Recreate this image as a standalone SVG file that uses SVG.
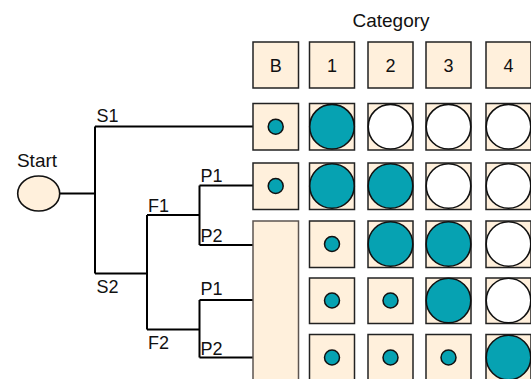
<svg xmlns="http://www.w3.org/2000/svg" width="531" height="379" viewBox="0 0 531 379">
<style>
text{font-family:"Liberation Sans",Arial,sans-serif;font-size:18px;fill:#111}
.c{text-anchor:middle}
.box{fill:#fff0dc;stroke:#222;stroke-width:1.5}
.tall{fill:#fff0dc;stroke:#5c5450;stroke-width:1.5}
.big{stroke:#111;stroke-width:1.6}
.t{fill:#06a2b2}
.w{fill:#fff}
.dot{fill:#06a2b2;stroke:#111;stroke-width:1.5}
.ln{fill:none;stroke:#000;stroke-width:2}
</style>
<rect width="531" height="379" fill="#fff"/>
<text class="c" x="391" y="27" style="font-size:19px">Category</text>
<g id="connectors">
<path class="ln" d="M59.5,193.5H95M95,126.5V273.5M95,126.5H253M95,273.5H147M147,215V329.5M147,215H199.5M147,329.5H199.5M199.5,185.5V245M199.5,185.5H253M199.5,245H253M199.5,300V357.5M199.5,300H253M199.5,357.5H253"/>
</g>
<g id="start">
<ellipse cx="38.7" cy="193.5" rx="21" ry="17.5" fill="#fff0dc" stroke="#111" stroke-width="1.6"/>
<text class="c" x="37" y="167.3" style="font-size:19px">Start</text>
</g>
<g id="labels">
<text x="96.5" y="121.7">S1</text>
<text x="96.5" y="293.3">S2</text>
<text x="148" y="211.7">F1</text>
<text x="148" y="349.3">F2</text>
<text x="200.5" y="181.7">P1</text>
<text x="200.5" y="241.7">P2</text>
<text x="200.5" y="295">P1</text>
<text x="200.5" y="355">P2</text>
</g>
<g id="header">
<rect class="box" x="253" y="42" width="45.5" height="46"/><text class="c" x="275.7" y="72">B</text>
<rect class="box" x="309.5" y="42" width="45" height="46"/><text class="c" x="332" y="72">1</text>
<rect class="box" x="368" y="42" width="45" height="46"/><text class="c" x="390.5" y="72">2</text>
<rect class="box" x="426" y="42" width="45" height="46"/><text class="c" x="448.5" y="72">3</text>
<rect class="box" x="486" y="42" width="45" height="46"/><text class="c" x="508.5" y="72">4</text>
</g>
<g id="row1">
<rect class="box" x="253" y="103.5" width="45.5" height="46.5"/><circle class="dot" cx="275.7" cy="126.7" r="7.5"/>
<rect class="box" x="309.5" y="103.5" width="45" height="46.5"/><circle class="big t" cx="332" cy="126.7" r="22.3"/>
<rect class="box" x="368" y="103.5" width="45" height="46.5"/><circle class="big w" cx="390.5" cy="126.7" r="22.3"/>
<rect class="box" x="426" y="103.5" width="45" height="46.5"/><circle class="big w" cx="448.5" cy="126.7" r="22.3"/>
<rect class="box" x="486" y="103.5" width="45" height="46.5"/><circle class="big w" cx="508.5" cy="126.7" r="22.3"/>
</g>
<g id="row2">
<rect class="box" x="253" y="163" width="45.5" height="46.5"/><circle class="dot" cx="275.7" cy="186" r="7.5"/>
<rect class="box" x="309.5" y="163" width="45" height="46.5"/><circle class="big t" cx="332" cy="186" r="22.3"/>
<rect class="box" x="368" y="163" width="45" height="46.5"/><circle class="big t" cx="390.5" cy="186" r="22.3"/>
<rect class="box" x="426" y="163" width="45" height="46.5"/><circle class="big w" cx="448.5" cy="186" r="22.3"/>
<rect class="box" x="486" y="163" width="45" height="46.5"/><circle class="big w" cx="508.5" cy="186" r="22.3"/>
</g>
<g id="baseline-tall">
<rect class="tall" x="253" y="221" width="45.5" height="170"/>
</g>
<g id="row3">
<rect class="box" x="309.5" y="221" width="45" height="46.5"/><circle class="dot" cx="332" cy="244" r="7.5"/>
<rect class="box" x="368" y="221" width="45" height="46.5"/><circle class="big t" cx="390.5" cy="244" r="22.3"/>
<rect class="box" x="426" y="221" width="45" height="46.5"/><circle class="big t" cx="448.5" cy="244" r="22.3"/>
<rect class="box" x="486" y="221" width="45" height="46.5"/><circle class="big w" cx="508.5" cy="244" r="22.3"/>
</g>
<g id="row4">
<rect class="box" x="309.5" y="278" width="45" height="45.5"/><circle class="dot" cx="332" cy="300.5" r="7.5"/>
<rect class="box" x="368" y="278" width="45" height="45.5"/><circle class="dot" cx="390.5" cy="300.5" r="7.5"/>
<rect class="box" x="426" y="278" width="45" height="45.5"/><circle class="big t" cx="448.5" cy="300.5" r="22.3"/>
<rect class="box" x="486" y="278" width="45" height="45.5"/><circle class="big w" cx="508.5" cy="300.5" r="22.3"/>
</g>
<g id="row5">
<rect class="box" x="309.5" y="334.5" width="45" height="46.5"/><circle class="dot" cx="332" cy="357.5" r="7.5"/>
<rect class="box" x="368" y="334.5" width="45" height="46.5"/><circle class="dot" cx="390.5" cy="357.5" r="7.5"/>
<rect class="box" x="426" y="334.5" width="45" height="46.5"/><circle class="dot" cx="448.5" cy="357.5" r="7.5"/>
<rect class="box" x="486" y="334.5" width="45" height="46.5"/><circle class="big t" cx="508.5" cy="357.5" r="22.3"/>
</g>
</svg>
